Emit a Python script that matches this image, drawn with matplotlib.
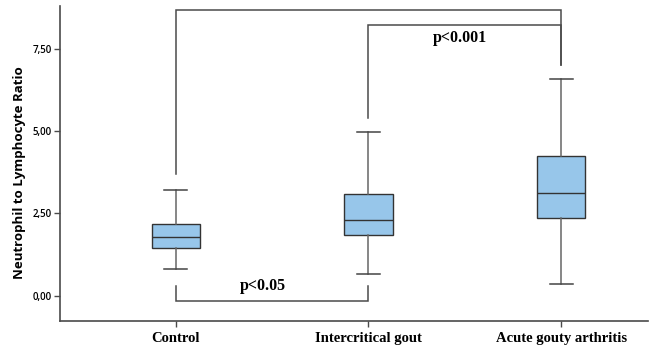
import matplotlib.pyplot as plt
import numpy as np

# groups and box statistics
groups = ['Control', 'Intercritical gout', 'Acute gouty arthritis']
whislo = [0.82, 0.66, 0.35]
q1 = [1.45, 1.84, 2.35]
med = [1.79, 2.31, 3.12]
q3 = [2.18, 3.09, 4.23]
whishi = [3.21, 4.97, 6.58]

yticks = [0.0, 2.5, 5.0, 7.5]
ytick_labels = ['0,00', '2,50', '5,00', '7,50']

# significance brackets: (left group, right group, left foot, right foot, bar level, label, label x, label y)
brackets = [
    (0, 1, 0.31, 0.31, -0.15, 'p<0.05', 0.45, 0.30),
    (1, 2, 5.40, 7.00, 8.21, 'p<0.001', 1.475, 7.82),
    (0, 2, 3.70, 7.00, 8.66, None, None, None),
]

line_col = '#4a4a4a'
box_col = '#97c6ea'

fig = plt.figure(figsize=(6.51, 3.47), dpi=100)
ax = fig.add_axes([0.0922, 0.0749, 0.9032, 0.9078])

stats = []
for i in range(len(groups)):
    stats.append(dict(whislo=whislo[i], q1=q1[i], med=med[i], q3=q3[i],
                      whishi=whishi[i], fliers=[], label=groups[i]))

ax.bxp(stats, positions=np.arange(len(groups)), widths=0.25, capwidths=0.12,
       patch_artist=True,
       boxprops=dict(facecolor=box_col, edgecolor='#333333', linewidth=1.0),
       medianprops=dict(color='#333333', linewidth=1.0),
       whiskerprops=dict(color='#666666', linewidth=1.1),
       capprops=dict(color='#444444', linewidth=1.1))

for a, b, fa, fb, lvl, lab, lx, ly in brackets:
    ax.plot([a, a, b, b], [fa, lvl, lvl, fb], color=line_col, lw=1.1,
            solid_joinstyle='miter')
    if lab:
        ax.text(lx, ly, lab, ha='center', va='center',
                family='Liberation Serif', fontweight='bold', fontsize=11.5)

ax.set_xlim(-0.60, 2.45)
ax.set_ylim(-0.76, 8.79)
ax.set_yticks(yticks)
ax.set_yticklabels(ytick_labels, family='Open Sans', fontsize=7,
                   fontweight='semibold')
ax.set_xticks(np.arange(len(groups)))
ax.set_xticklabels(groups, family='Liberation Serif', fontweight='bold',
                   fontsize=10.5)
ax.set_ylabel('Neutrophil to Lymphocyte Ratio', family='Open Sans',
              fontweight='bold', fontsize=9.5)
ax.yaxis.set_label_coords(-0.058, 0.47)

for s in ['top', 'right']:
    ax.spines[s].set_visible(False)
for s in ['left', 'bottom']:
    ax.spines[s].set_color(line_col)
    ax.spines[s].set_linewidth(1.2)
ax.tick_params(axis='both', color=line_col, length=4, width=1.0, pad=2)
ax.tick_params(axis='x', pad=4)

fig.savefig('out.png', dpi=100)
